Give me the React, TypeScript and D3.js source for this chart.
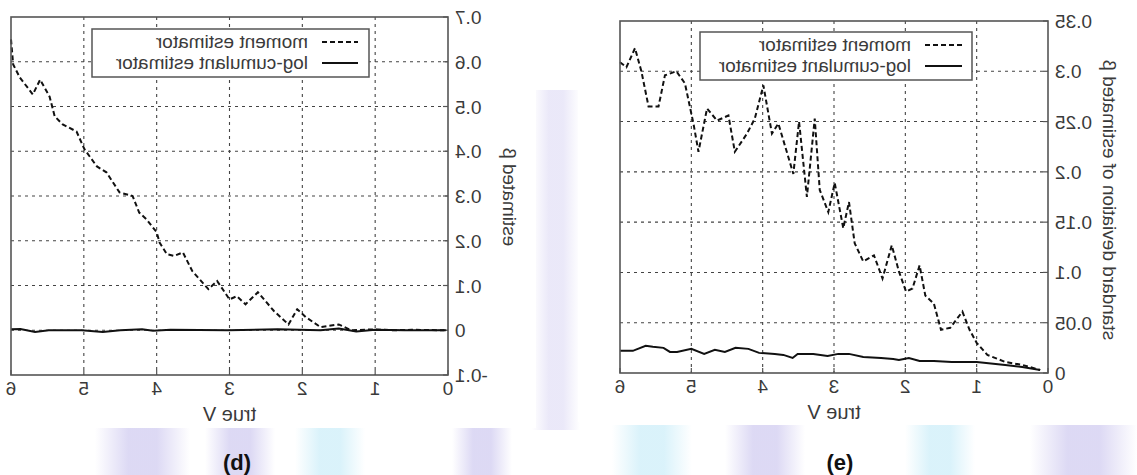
import React from 'react';
import * as d3 from 'd3';

// panel (d): estimated beta
const dMomentV = [6.0, 5.97, 5.88, 5.7, 5.6, 5.47, 5.4, 5.29, 5.1, 4.99, 4.82, 4.69, 4.51, 4.33, 4.24, 4.14, 4.0, 3.96, 3.86, 3.76, 3.64, 3.51, 3.29, 3.17, 3.0, 2.9, 2.78, 2.61, 2.39, 2.19, 2.07, 1.95, 1.75, 1.5, 1.33, 1.0, 0.77, 0.5, 0.05];
const dMoment = [0.65, 0.594, 0.565, 0.527, 0.56, 0.522, 0.478, 0.46, 0.444, 0.404, 0.366, 0.353, 0.308, 0.3, 0.263, 0.248, 0.219, 0.196, 0.17, 0.166, 0.174, 0.132, 0.092, 0.11, 0.069, 0.076, 0.058, 0.085, 0.043, 0.013, 0.047, 0.029, 0.007, 0.013, 0.0, 0.002, 0.0, 0.001, 0.0];
const dLogV = [6.0, 5.87, 5.67, 5.48, 5.03, 4.74, 4.5, 4.2, 4.05, 3.81, 3.02, 2.34, 1.75, 1.5, 1.26, 1.0, 0.6, 0.03];
const dLog = [0.002, 0.003, -0.004, 0.0, 0.0, -0.004, 0.0, 0.002, -0.001, 0.001, 0.0, 0.002, 0.0, 0.004, -0.003, 0.001, 0.0, 0.0];
const dYTicks = [-0.1, 0, 0.1, 0.2, 0.3, 0.4, 0.5, 0.6, 0.7];

// panel (e): standard deviation of estimated beta
const eMomentV = [6.0, 5.91, 5.79, 5.7, 5.6, 5.46, 5.37, 5.21, 5.09, 4.97, 4.9, 4.78, 4.64, 4.48, 4.39, 4.22, 4.11, 3.99, 3.87, 3.78, 3.57, 3.49, 3.38, 3.27, 3.2, 3.08, 2.99, 2.87, 2.79, 2.71, 2.59, 2.44, 2.32, 2.19, 2.09, 1.99, 1.9, 1.8, 1.72, 1.6, 1.5, 1.37, 1.2, 1.1, 1.0, 0.85, 0.6, 0.36, 0.11];
const eMoment = [0.309, 0.304, 0.323, 0.3, 0.265, 0.265, 0.296, 0.3, 0.288, 0.248, 0.22, 0.263, 0.251, 0.256, 0.22, 0.238, 0.253, 0.286, 0.238, 0.248, 0.198, 0.25, 0.175, 0.253, 0.182, 0.16, 0.189, 0.144, 0.17, 0.129, 0.111, 0.117, 0.094, 0.127, 0.101, 0.081, 0.084, 0.107, 0.077, 0.069, 0.043, 0.045, 0.061, 0.043, 0.03, 0.018, 0.011, 0.008, 0.003];
const eLogV = [6.0, 5.82, 5.64, 5.54, 5.39, 5.3, 5.2, 5.0, 4.82, 4.67, 4.53, 4.38, 4.2, 4.05, 3.83, 3.71, 3.58, 3.51, 3.29, 3.09, 2.94, 2.79, 2.59, 2.34, 2.17, 2.09, 1.95, 1.8, 1.6, 1.35, 1.0, 0.6, 0.36, 0.11];
const eLog = [0.022, 0.022, 0.027, 0.026, 0.025, 0.021, 0.021, 0.024, 0.019, 0.023, 0.021, 0.025, 0.024, 0.02, 0.019, 0.018, 0.015, 0.019, 0.019, 0.017, 0.019, 0.019, 0.016, 0.015, 0.014, 0.013, 0.015, 0.012, 0.012, 0.011, 0.011, 0.008, 0.006, 0.003];
const eYTicks = [0, 0.05, 0.1, 0.15, 0.2, 0.25, 0.3, 0.35];

const xTicks = [0, 1, 2, 3, 4, 5, 6];
const legendLabels = ['moment estimator', 'log-cumulant estimator'];
const xTitle = 'true V';

const FONT = '"Liberation Sans", Arial, sans-serif';

// the figure is a mirror image, so every label is drawn flipped
const MText = ({ x, y, anchor = 'start', rotate = false, size = 19, children }: any) => (
  <text
    transform={`translate(${x},${y}) scale(-1,1)${rotate ? ' rotate(-90)' : ''}`}
    textAnchor={anchor}
    fontFamily={FONT}
    fontSize={size}
    fill="#3a3a3a"
  >
    {children}
  </text>
);

const fmt = (t: number) => String(+t.toFixed(2));

const Panel = ({ box, yDomain, yTicks, yTitle, moment, log, legend, caption }: any) => {
  const x = d3.scaleLinear().domain([6, 0]).range([box.l, box.r]);
  const y = d3.scaleLinear().domain(yDomain).range([box.b, box.t]);
  const line = d3.line<[number, number]>().x((d) => x(d[0])).y((d) => y(d[1]));
  const mPts = moment.v.map((v: number, i: number) => [v, moment.y[i]]);
  const lPts = log.v.map((v: number, i: number) => [v, log.y[i]]);
  const [y0, y1] = yDomain;

  return (
    <g>
      {/* grid */}
      <g stroke="#444" strokeWidth={1.1} strokeDasharray="3,4">
        {yTicks.filter((t: number) => t !== y0 && t !== y1).map((t: number) => (
          <line key={'h' + t} x1={box.l} x2={box.r} y1={y(t)} y2={y(t)} />
        ))}
        {xTicks.filter((t) => t !== 0 && t !== 6).map((t) => (
          <line key={'v' + t} x1={x(t)} x2={x(t)} y1={box.t} y2={box.b} />
        ))}
      </g>
      {/* ticks */}
      <g stroke="#555" strokeWidth={1.2}>
        {xTicks.map((t) => (
          <line key={'xt' + t} x1={x(t)} x2={x(t)} y1={box.b} y2={box.b - 5} />
        ))}
        {yTicks.map((t: number) => (
          <line key={'yt' + t} x1={box.r} x2={box.r - 5} y1={y(t)} y2={y(t)} />
        ))}
      </g>
      {/* series */}
      <path d={line(lPts) as string} fill="none" stroke="#111" strokeWidth={2} />
      <path d={line(mPts) as string} fill="none" stroke="#111" strokeWidth={2} strokeDasharray="5,3" />
      {/* border */}
      <rect x={box.l} y={box.t} width={box.r - box.l} height={box.b - box.t} fill="none" stroke="#555" strokeWidth={1.6} />
      {/* legend */}
      <rect x={legend.x} y={legend.y} width={legend.w} height={legend.h} fill="#fff" stroke="#555" strokeWidth={1.5} />
      {legendLabels.map((lab, i) => {
        const ry = legend.y + 13 + i * 21;
        return (
          <g key={lab}>
            <line x1={legend.s0} x2={legend.s1} y1={ry} y2={ry} stroke="#111" strokeWidth={2} strokeDasharray={i === 0 ? '5,3' : undefined} />
            <MText x={legend.tx} y={ry + 6}>{lab}</MText>
          </g>
        );
      })}
      {/* axis labels */}
      {xTicks.map((t) => (
        <MText key={'xl' + t} x={x(t)} y={box.b + 20} anchor="middle">{t}</MText>
      ))}
      {yTicks.map((t: number) => (
        <MText key={'yl' + t} x={box.r + 7} y={y(t) + 7} anchor="end">{fmt(t)}</MText>
      ))}
      <MText x={(box.l + box.r) / 2} y={box.b + 46} anchor="middle" size={20}>{xTitle}</MText>
      <MText x={yTitle.x} y={yTitle.y} anchor="middle" rotate>{yTitle.text}</MText>
      <text x={caption.x} y={470} textAnchor="middle" fontFamily={FONT} fontWeight="bold" fontSize={22} fill="#111">
        {caption.text}
      </text>
    </g>
  );
};

// faint watermark behind the figure
const washes = [
  { x: 95, w: 95, g: 'wp' },
  { x: 205, w: 70, g: 'wp' },
  { x: 295, w: 70, g: 'wc' },
  { x: 452, w: 60, g: 'wp' },
  { x: 612, w: 80, g: 'wc' },
  { x: 725, w: 80, g: 'wp' },
  { x: 905, w: 70, g: 'wc' },
  { x: 1030, w: 107, g: 'wp' },
];

export default function App() {
  return (
    <svg width={1137} height={475} style={{ display: 'block', position: 'absolute', left: 0, top: 0 }}>
      <defs>
        <linearGradient id="wp" x1="0" x2="1" y1="0" y2="0">
          <stop offset="0" stopColor="#d9d5f3" stopOpacity={0} />
          <stop offset="0.35" stopColor="#d9d5f3" stopOpacity={0.9} />
          <stop offset="0.65" stopColor="#d9d5f3" stopOpacity={0.9} />
          <stop offset="1" stopColor="#d9d5f3" stopOpacity={0} />
        </linearGradient>
        <linearGradient id="wc" x1="0" x2="1" y1="0" y2="0">
          <stop offset="0" stopColor="#d6f1fa" stopOpacity={0} />
          <stop offset="0.35" stopColor="#d6f1fa" stopOpacity={0.9} />
          <stop offset="0.65" stopColor="#d6f1fa" stopOpacity={0.9} />
          <stop offset="1" stopColor="#d6f1fa" stopOpacity={0} />
        </linearGradient>
      </defs>
      <rect width={1137} height={475} fill="#fff" />
      {washes.map((w) => (
        <rect key={w.x} x={w.x} y={425} width={w.w} height={50} fill={`url(#${w.g})`} />
      ))}
      <rect x={532} y={90} width={48} height={340} fill="url(#wp)" opacity={0.6} />
      <rect x={0} y={0} width={536} height={428} fill="#fff" />
      <rect x={578} y={0} width={540} height={422} fill="#fff" />
      <Panel
        box={{ l: 11, r: 448, t: 17, b: 375 }}
        yDomain={[-0.1, 0.7]}
        yTicks={dYTicks}
        yTitle={{ x: 503, y: 197, text: 'estimated β' }}
        moment={{ v: dMomentV, y: dMoment }}
        log={{ v: dLogV, y: dLog }}
        legend={{ x: 92, y: 29, w: 277, h: 48, s0: 322, s1: 358, tx: 308 }}
        caption={{ x: 237, text: '(d)' }}
      />
      <Panel
        box={{ l: 620, r: 1048, t: 21, b: 373 }}
        yDomain={[0, 0.35]}
        yTicks={eYTicks}
        yTitle={{ x: 1103, y: 200, text: 'standard deviation of estimated β' }}
        moment={{ v: eMomentV, y: eMoment }}
        log={{ v: eLogV, y: eLog }}
        legend={{ x: 700, y: 32, w: 272, h: 48, s0: 925, s1: 962, tx: 911 }}
        caption={{ x: 840, text: '(e)' }}
      />
    </svg>
  );
}
